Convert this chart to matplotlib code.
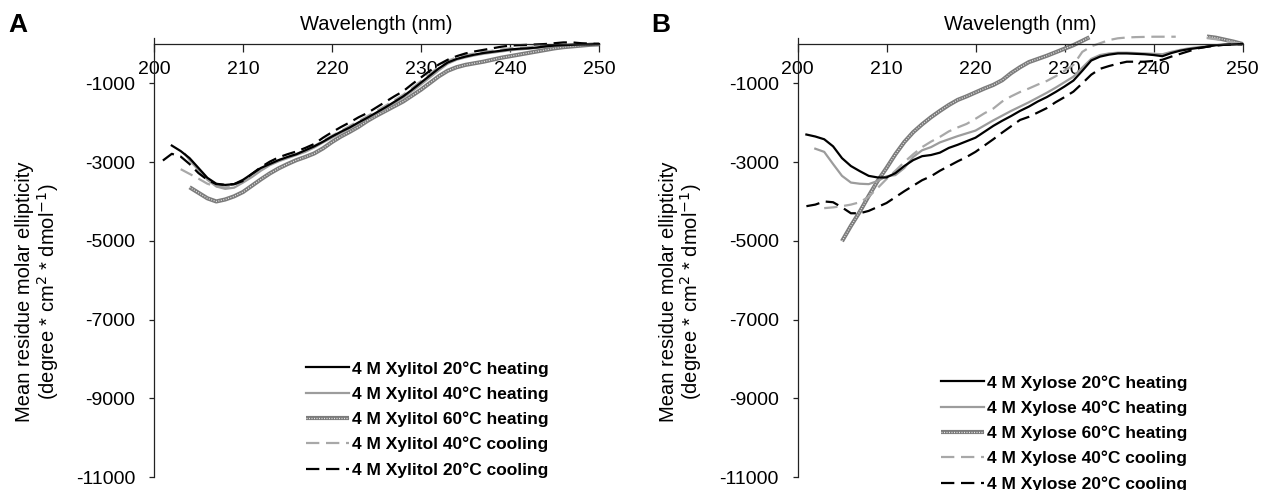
import matplotlib
matplotlib.use("Agg")
import matplotlib.pyplot as plt
import numpy as np

plt.rcParams["font.family"] = ["Liberation Sans", "DejaVu Sans"]
plt.rcParams["axes.unicode_minus"] = False

nan = np.nan

# ---------------- Panel A: 4 M xylitol ----------------
wl_a_20h = list(range(202, 251))
a_20h = [-2580, -2720, -2900, -3150, -3400, -3550, -3580, -3560, -3450, -3300,
         -3150, -3050, -2950, -2870, -2800, -2700, -2600, -2480, -2350, -2230,
         -2120, -1990, -1870, -1740, -1610, -1470, -1330, -1160, -980, -800,
         -620, -470, -380, -320, -270, -230, -200, -170, -140, -120,
         -110, -90, -60, -40, -30, -20, -10, -10, 0]

wl_a_40h = [203.5] + list(range(204, 251))
a_40h = [-2800, -2950, -3200, -3450, -3620, -3680, -3650, -3520, -3380, -3220,
         -3080, -2980, -2900, -2820, -2740, -2630, -2500, -2380, -2260, -2140,
         -2010, -1890, -1770, -1640, -1500, -1360, -1200, -1030, -850, -670,
         -500, -400, -340, -290, -250, -220, -190, -160, -140, -120,
         -100, -70, -50, -40, -30, -20, -10, -10]

wl_a_60h = list(range(204, 251))
a_60h = [-3640, -3780, -3920, -4000, -3950, -3870, -3760, -3600, -3440, -3290,
         -3160, -3050, -2950, -2870, -2780, -2650, -2490, -2350, -2230, -2100,
         -1950, -1820, -1700, -1580, -1460, -1310, -1160, -990, -820, -680,
         -590, -530, -490, -450, -400, -350, -310, -270, -230, -190,
         -150, -110, -80, -60, -40, -20, -10]

wl_a_40c = list(range(203, 251))
a_40c = [-3180, -3300, -3420, -3550, -3620, -3640, -3600, -3480, -3330, -3180,
         -3060, -2950, -2870, -2790, -2700, -2590, -2460, -2330, -2210, -2080,
         -1960, -1830, -1700, -1570, -1430, -1290, -1120, -940, -760, -580,
         -430, -340, -280, -240, -200, -170, -140, -110, -100, -80,
         -60, -50, -30, -20, -10, -10, 0, 0]

wl_a_20c = list(range(201, 251))
a_20c = [-2960, -2790, -2860, -3050, -3280, -3450, -3560, -3580, -3560, -3480,
         -3300, -3130, -2990, -2880, -2800, -2730, -2640, -2540, -2380, -2240,
         -2110, -1990, -1860, -1750, -1610, -1470, -1330, -1200, -1020, -850,
         -680, -520, -400, -310, -240, -190, -150, -110, -70, -40,
         -30, -20, -10, 0, 20, 40, 40, 20, 10, 0]

labels_a = ["4 M Xylitol 20°C heating", "4 M Xylitol 40°C heating",
            "4 M Xylitol 60°C heating", "4 M Xylitol 40°C cooling",
            "4 M Xylitol 20°C cooling"]

# ---------------- Panel B: 4 M xylose ----------------
wl_b_20h = list(range(201, 251))
b_20h = [-2300, -2350, -2420, -2600, -2900, -3100, -3230, -3350, -3390, -3390,
         -3280, -3100, -2950, -2850, -2820, -2760, -2640, -2560, -2470, -2380,
         -2230, -2080, -1950, -1830, -1700, -1590, -1460, -1350, -1220, -1080,
         -930, -680, -420, -320, -270, -240, -240, -250, -260, -280,
         -310, -230, -170, -130, -100, -70, -30, -20, -10, 0]

wl_b_40h = list(range(202, 251))
b_40h = [-2660, -2740, -3050, -3350, -3520, -3550, -3560, -3480, -3360, -3330,
         -3150, -2870, -2700, -2620, -2500, -2420, -2340, -2270, -2200, -2070,
         -1940, -1820, -1700, -1590, -1480, -1360, -1240, -1110, -970, -830,
         -600, -380, -280, -240, -220, -220, -230, -240, -250, -260,
         -200, -150, -110, -80, -60, -30, -20, -10, 0]

wl_b_60h = list(range(205, 233)) + [232.8, 240, 246, 247, 248, 249, 250]
b_60h = [-5010, -4620, -4260, -3860, -3480, -3150, -2800, -2490, -2240, -2040,
         -1860, -1700, -1550, -1420, -1330, -1230, -1130, -1040, -920, -740,
         -590, -460, -380, -300, -210, -120, -30, 80, 170, nan,
         190, 160, 110, 60, 0]

wl_b_40c = list(range(203, 243)) + [242.5, 244, 246, 247, 248, 249, 250]
b_40c = [-4170, -4150, -4120, -4080, -4020, -3880, -3660, -3430, -3220, -3000,
         -2800, -2620, -2480, -2360, -2220, -2120, -2030, -1900, -1760, -1640,
         -1460, -1330, -1220, -1130, -1030, -940, -820, -680, -530, -200,
         -60, 20, 100, 145, 165, 175, 180, 185, 185, 185,
         185, nan, 150, 120, 80, 40, 0]

wl_b_20c = list(range(201, 251))
b_20c = [-4120, -4080, -4000, -4020, -4150, -4300, -4300, -4240, -4140, -4040,
         -3890, -3740, -3600, -3460, -3360, -3220, -3100, -2980, -2870, -2740,
         -2580, -2420, -2250, -2090, -1930, -1850, -1740, -1630, -1480, -1350,
         -1210, -1000, -780, -630, -560, -500, -450, -450, -450, -430,
         -400, -320, -250, -180, -110, -70, -40, -20, -10, 0]

labels_b = ["4 M Xylose 20°C heating", "4 M Xylose 40°C heating",
            "4 M Xylose 60°C heating", "4 M Xylose 40°C cooling",
            "4 M Xylose 20°C cooling"]

x_ticks = [200, 210, 220, 230, 240, 250]
y_ticks = [-1000, -3000, -5000, -7000, -9000, -11000]
y_min, y_max = -11000, 160

DASH = (0, (6, 3))
LW = 1.6


def draw_series(ax, x, y, kind):
    """Draw one spectrum; returns the legend handle."""
    if kind == "hatch":
        base, = ax.plot(x, y, color="#7c7c7c", lw=3.0, clip_on=False,
                        solid_capstyle="butt")
        over, = ax.plot(x, y, color="#e6e6e6", lw=0.9, ls=(0, (0.8, 1.2)),
                        clip_on=False)
        return (base, over)
    style = {
        "black": dict(color="black", ls="-"),
        "grey": dict(color="#9c9c9c", ls="-"),
        "greydash": dict(color="#a8a8a8", ls=DASH),
        "blackdash": dict(color="black", ls=DASH),
    }[kind]
    line, = ax.plot(x, y, lw=LW, clip_on=False, **style)
    return line


def setup_axes(ax):
    ax.set_xlim(200, 250)
    ax.set_ylim(y_min, y_max)
    for s in ("top", "right"):
        ax.spines[s].set_visible(False)
    ax.spines["bottom"].set_position(("data", 0))
    for s in ("left", "bottom"):
        ax.spines[s].set_linewidth(0.9)
        ax.spines[s].set_color("#222222")
    ax.set_xticks(x_ticks)
    ax.set_xticklabels([str(v) for v in x_ticks])
    ax.set_yticks(y_ticks)
    ax.set_yticklabels([str(v) for v in y_ticks])
    ax.tick_params(axis="x", direction="out", length=5.5, width=0.9,
                   pad=6.5, labelsize=14, color="#222222")
    ax.tick_params(axis="y", direction="out", length=3.5, width=0.9,
                   pad=10, labelsize=14, color="#222222")
    ax.patch.set_visible(False)


fig = plt.figure(figsize=(12.63, 4.9), dpi=100)
W, H = 1263.0, 490.0

panels = [
    dict(left=154, letter="A", letter_x=18,
         data=[(wl_a_20h, a_20h, "black"), (wl_a_40h, a_40h, "grey"),
               (wl_a_60h, a_60h, "hatch"), (wl_a_40c, a_40c, "greydash"),
               (wl_a_20c, a_20c, "blackdash")],
         labels=labels_a, leg=(306, 361)),
    dict(left=797.5, letter="B", letter_x=661,
         data=[(wl_b_20h, b_20h, "black"), (wl_b_40h, b_40h, "grey"),
               (wl_b_60h, b_60h, "hatch"), (wl_b_40c, b_40c, "greydash"),
               (wl_b_20c, b_20c, "blackdash")],
         labels=labels_b, leg=(941, 375)),
]

ax_w = 445.0
zero_px, bottom_px = 44.0, 477.0
# pixel height of the axes, including the small headroom above zero
px_per_unit = (bottom_px - zero_px) / (0 - y_min)
ax_top = zero_px - y_max * px_per_unit

for p in panels:
    ax = fig.add_axes([p["left"] / W, 1 - bottom_px / H, ax_w / W,
                       (bottom_px - ax_top) / H])
    setup_axes(ax)
    drawn = {}
    # paint order: textured line at the back, black solid line on top
    for i in [2, 3, 1, 4, 0]:
        x, y, kind = p["data"][i]
        drawn[i] = draw_series(ax, x, y, kind)
    handles = [drawn[i] for i in range(5)]
    ax.legend(handles, p["labels"], loc="upper left",
              bbox_to_anchor=(p["leg"][0] / W, 1 - p["leg"][1] / H),
              bbox_transform=fig.transFigure, frameon=False,
              prop=dict(weight="bold", size=12.5), handlelength=2.5,
              handletextpad=0.15, labelspacing=0.56, borderpad=0,
              borderaxespad=0)
    cx = p["left"] + ax_w / 2
    fig.text(cx / W, 1 - 24 / H, "Wavelength (nm)", ha="center",
             va="center", fontsize=14.5)
    fig.text((p["left"] - 116) / W, 1 - 292 / H,
             "Mean residue molar ellipticity\n"
             "(degree * cm$^{2}$ * dmol$^{-1}$)",
             rotation=90, ha="center", va="center", fontsize=14.5,
             linespacing=1.05, multialignment="center")
    fig.text(p["letter_x"] / W, 1 - 25 / H, p["letter"], ha="center",
             va="center", fontsize=19, weight="bold")

fig.savefig("out.png", dpi=100)
